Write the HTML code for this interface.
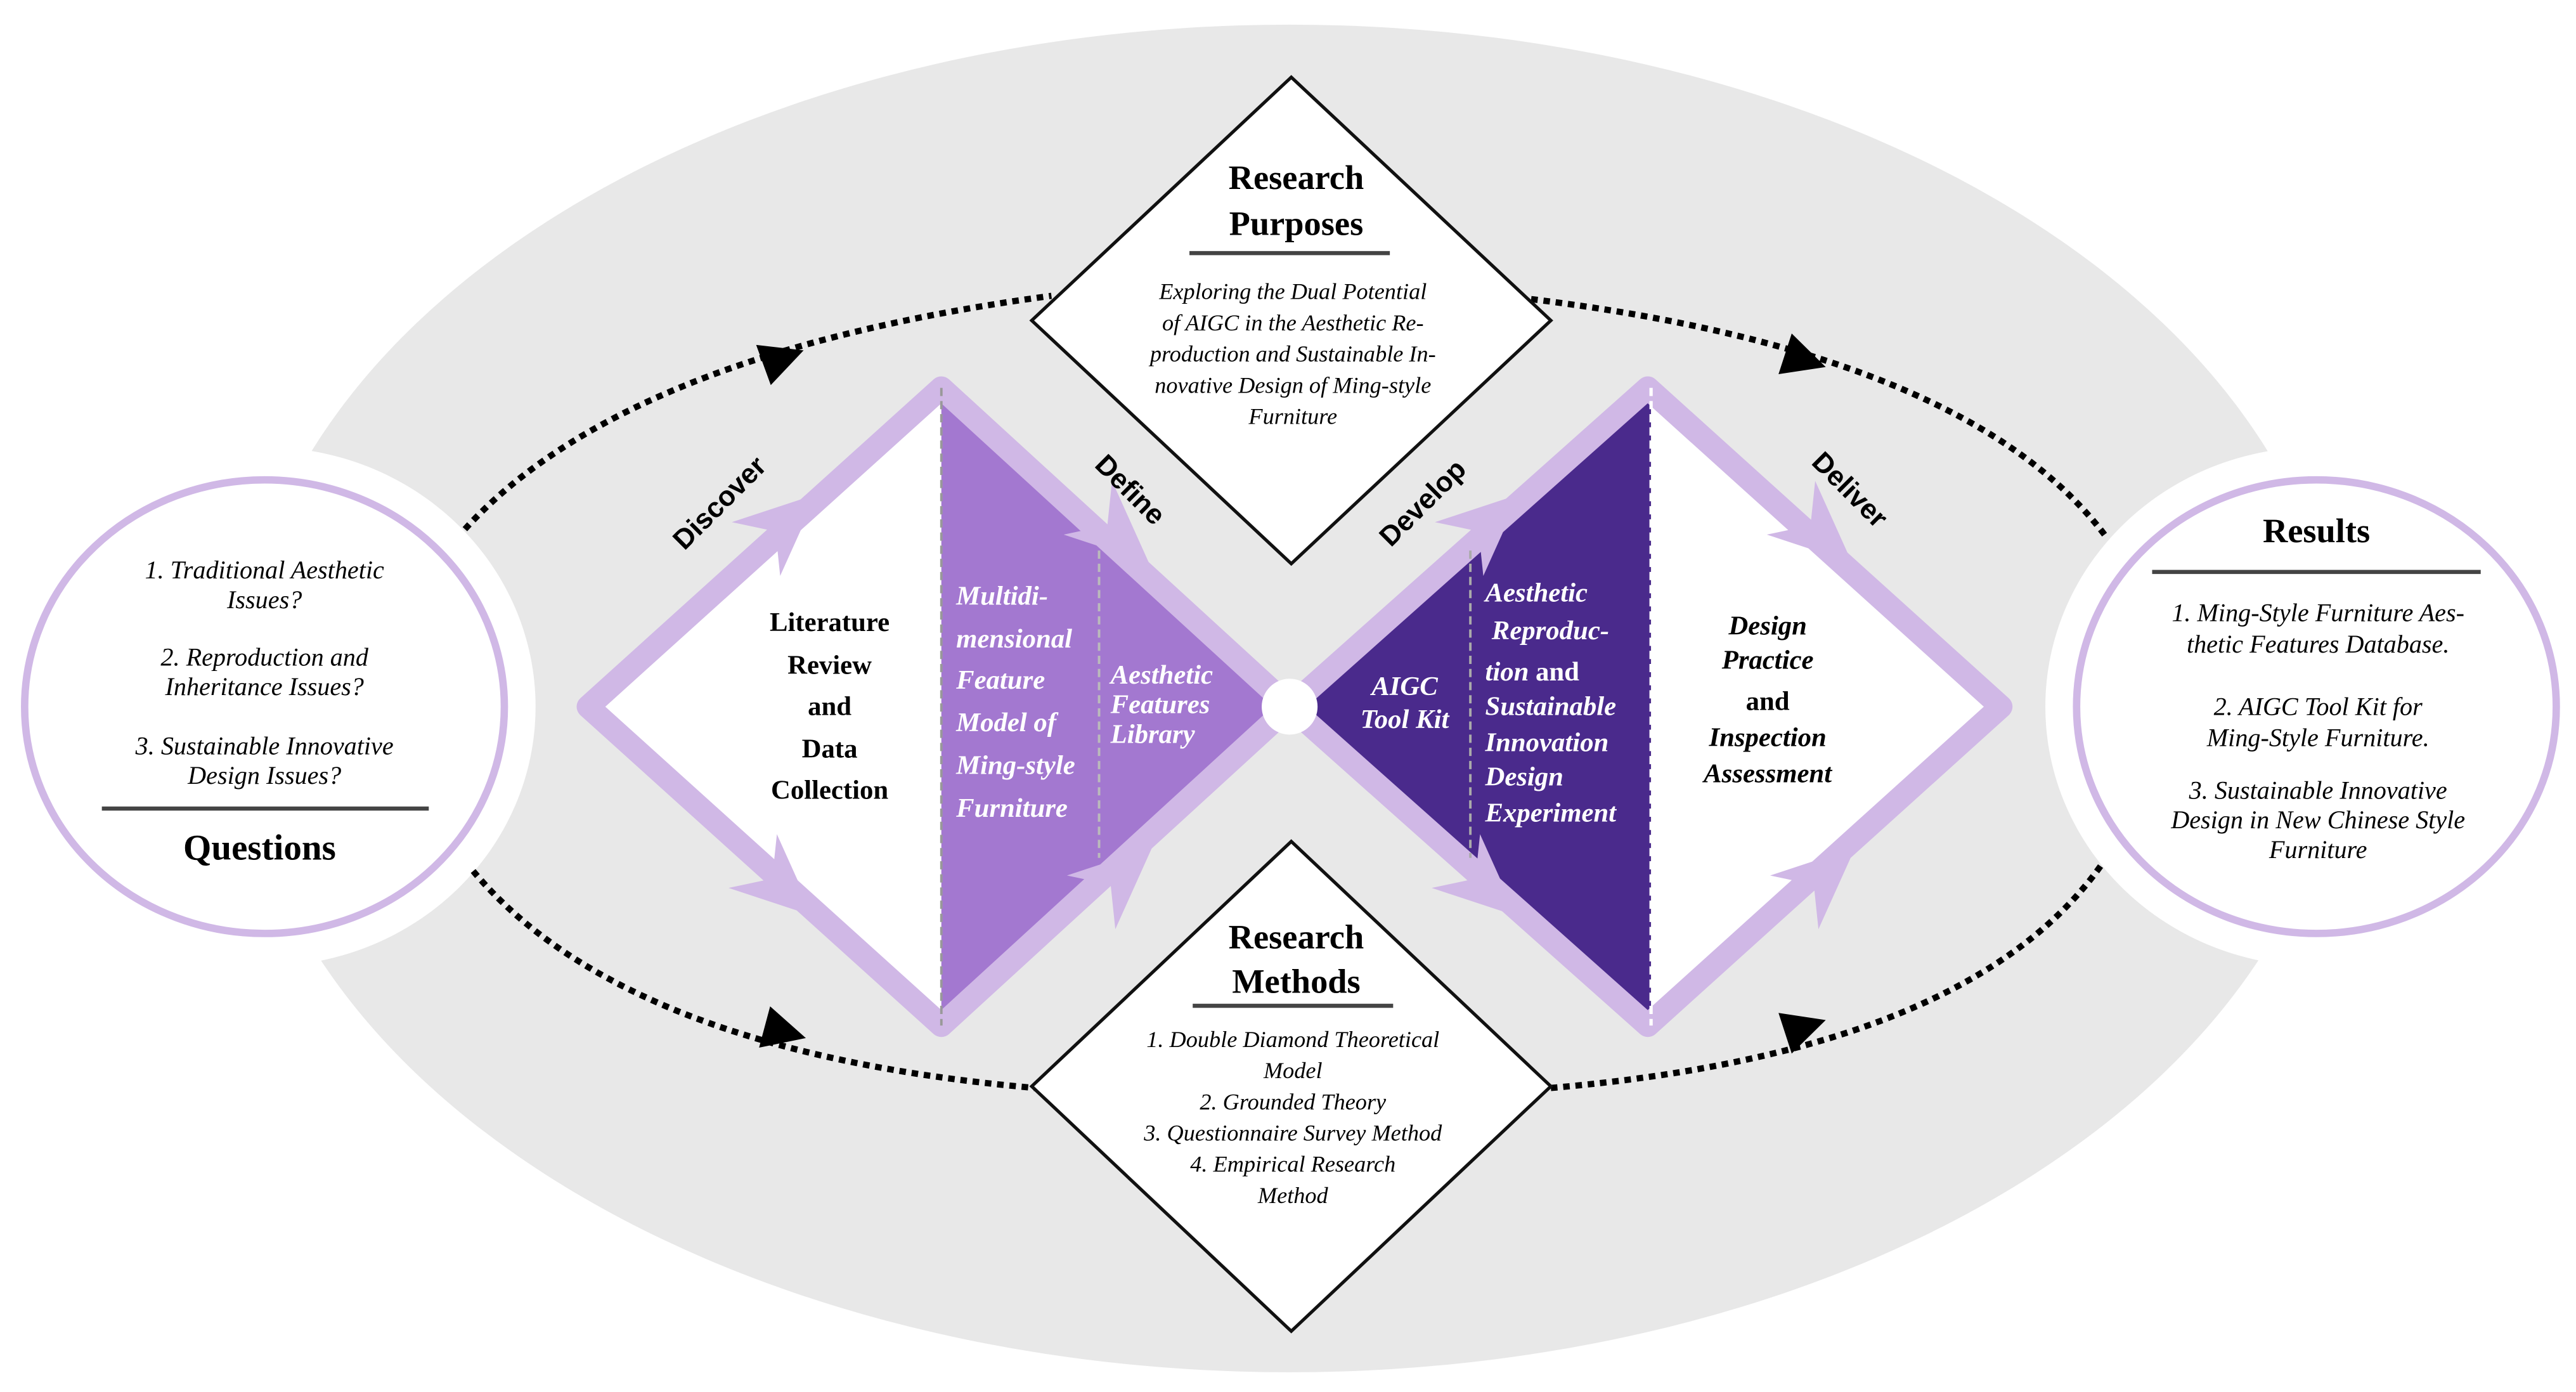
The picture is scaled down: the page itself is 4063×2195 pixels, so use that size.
<!DOCTYPE html>
<html><head><meta charset="utf-8"><style>
html,body{margin:0;padding:0;background:#fff;}
svg{display:block;}
.s{font-family:"Liberation Serif",serif;}
.a{font-family:"Liberation Sans",sans-serif;font-weight:bold;}
</style></head><body>
<svg width="4063" height="2195" viewBox="0 0 1568 847" preserveAspectRatio="none" xmlns="http://www.w3.org/2000/svg">
<rect width="1568" height="847" fill="#fff"/>
<ellipse cx="785" cy="425" rx="640" ry="410" fill="#e8e8e8"/>
<ellipse cx="161" cy="430" rx="165" ry="158" fill="#fff"/>
<ellipse cx="1410" cy="430" rx="165" ry="158" fill="#fff"/>
<ellipse cx="161" cy="430" rx="146" ry="138" fill="#fff" stroke="#d0b8e6" stroke-width="4.5"/>
<ellipse cx="1410" cy="430" rx="146" ry="138" fill="#fff" stroke="#d0b8e6" stroke-width="4.5"/>

<g fill="none" stroke="#000" stroke-width="3.8" stroke-dasharray="4 3.5">
<path d="M283,322 Q380,215 640,180"/>
<path d="M932,182 Q1200,215 1283,328"/>
<path d="M288,530 Q380,640 630,662"/>
<path d="M944,662 Q1200,640 1280,525"/>
</g>
<g fill="#000">
<polygon points="-12,-13 14,0 -12,13" transform="translate(476,218) rotate(-20)"/>
<polygon points="-12,-13 14,0 -12,13" transform="translate(1098,219) rotate(18)"/>
<polygon points="-12,-13 14,0 -12,13" transform="translate(477,628) rotate(15)"/>
<polygon points="-12,-13 14,0 -12,13" transform="translate(1098,625) rotate(-18)"/>
</g>

<polygon points="786,47 944,195 786,343 628,195" fill="#fff" stroke="#111" stroke-width="2"/>
<polygon points="786,512 944,661 786,810 628,661" fill="#fff" stroke="#111" stroke-width="2"/>

<polygon points="573,236 358,430 573,624" fill="#fff"/>
<polygon points="573,236 780,430 573,624" fill="#a378d0"/>
<polygon points="1005,236 790,430 1005,624" fill="#4a2a8c"/>
<polygon points="1005,236 1218,430 1005,624" fill="#fff"/>

<g fill="none" stroke="#d0b8e6" stroke-width="14" stroke-linejoin="round">
<path d="M785,430 L573,236 L358,430 L573,624 Z"/>
<path d="M785,430 L1003,236 L1218,430 L1003,624 Z"/>
</g>
<g fill="#d0b8e6">
<polygon points="26,0 -24,-22 -8,0 -24,22" transform="translate(478,318) rotate(-42)"/>
<polygon points="26,0 -24,-22 -8,0 -24,22" transform="translate(680,325) rotate(42)"/>
<polygon points="26,0 -24,-22 -8,0 -24,22" transform="translate(476,540) rotate(42)"/>
<polygon points="26,0 -24,-22 -8,0 -24,22" transform="translate(682,533) rotate(-42)"/>
<polygon points="26,0 -24,-22 -8,0 -24,22" transform="translate(906,318) rotate(-42)"/>
<polygon points="26,0 -24,-22 -8,0 -24,22" transform="translate(1108,325) rotate(42)"/>
<polygon points="26,0 -24,-22 -8,0 -24,22" transform="translate(904,540) rotate(42)"/>
<polygon points="26,0 -24,-22 -8,0 -24,22" transform="translate(1110,533) rotate(-42)"/>
</g>
<circle cx="785" cy="430" r="17" fill="#fff"/>

<g fill="none" stroke-width="1.5" stroke-dasharray="5 3">
<line x1="573" y1="236" x2="573" y2="624" stroke="#999"/>
<line x1="669" y1="335" x2="669" y2="522" stroke="#bbb"/>
<line x1="895" y1="335" x2="895" y2="522" stroke="#aaa"/>
<line x1="1005" y1="236" x2="1005" y2="624" stroke="#fff" stroke-width="2"/>
</g>

<g class="a" font-size="17" text-anchor="middle" fill="#000">
<text transform="translate(442,310) rotate(-45)">Discover</text>
<text transform="translate(684,302) rotate(45)">Define</text>
<text transform="translate(870,310) rotate(-45)">Develop</text>
<text transform="translate(1122,302) rotate(45)">Deliver</text>
</g>

<g class="s" text-anchor="middle">
<text x="789" y="115" font-size="21" font-weight="bold">Research</text>
<text x="789" y="143" font-size="21" font-weight="bold">Purposes</text>
<line x1="724" y1="154" x2="846" y2="154" stroke="#444" stroke-width="2.5"/>
<g font-size="14" font-style="italic">
<text x="787" y="182">Exploring the Dual Potential</text>
<text x="787" y="201">of AIGC in the Aesthetic Re-</text>
<text x="787" y="220">production and Sustainable In-</text>
<text x="787" y="239">novative Design of Ming-style</text>
<text x="787" y="258">Furniture</text>
</g>
<text x="789" y="577" font-size="21" font-weight="bold">Research</text>
<text x="789" y="604" font-size="21" font-weight="bold">Methods</text>
<line x1="726" y1="612" x2="848" y2="612" stroke="#444" stroke-width="2.5"/>
<g font-size="14" font-style="italic">
<text x="787" y="637">1. Double Diamond Theoretical</text>
<text x="787" y="656">Model</text>
<text x="787" y="675">2. Grounded Theory</text>
<text x="787" y="694">3. Questionnaire Survey Method</text>
<text x="787" y="713">4. Empirical Research</text>
<text x="787" y="732">Method</text>
</g>
<g font-size="15.5" font-style="italic">
<text x="161" y="352">1. Traditional Aesthetic</text>
<text x="161" y="370">Issues?</text>
<text x="161" y="405">2. Reproduction and</text>
<text x="161" y="423">Inheritance Issues?</text>
<text x="161" y="459">3. Sustainable Innovative</text>
<text x="161" y="477">Design Issues?</text>
</g>
<line x1="62" y1="492" x2="261" y2="492" stroke="#444" stroke-width="2.5"/>
<text x="158" y="523" font-size="22" font-weight="bold">Questions</text>
<text x="1410" y="330" font-size="21" font-weight="bold">Results</text>
<line x1="1310" y1="348" x2="1510" y2="348" stroke="#444" stroke-width="2.5"/>
<g font-size="15.5" font-style="italic">
<text x="1411" y="378">1. Ming-Style Furniture Aes-</text>
<text x="1411" y="397">thetic Features Database.</text>
<text x="1411" y="435">2. AIGC Tool Kit for</text>
<text x="1411" y="454">Ming-Style Furniture.</text>
<text x="1411" y="486">3. Sustainable Innovative</text>
<text x="1411" y="504">Design in New Chinese Style</text>
<text x="1411" y="522">Furniture</text>
</g>
<g font-size="16.5" font-weight="bold">
<text x="505" y="384">Literature</text>
<text x="505" y="410">Review</text>
<text x="505" y="435">and</text>
<text x="505" y="461">Data</text>
<text x="505" y="486">Collection</text>
</g>
<g font-size="16.5" font-weight="bold" font-style="italic">
<text x="1076" y="386">Design</text>
<text x="1076" y="407">Practice</text>
<text x="1076" y="432" font-style="normal">and</text>
<text x="1076" y="454">Inspection</text>
<text x="1076" y="476">Assessment</text>
</g>
<g font-size="16.5" font-weight="bold" font-style="italic" fill="#fff">
<text x="855" y="423">AIGC</text>
<text x="855" y="443">Tool Kit</text>
</g>
</g>
<g class="s" font-size="16.5" font-weight="bold" font-style="italic" fill="#fff">
<text x="582" y="368">Multidi-</text>
<text x="582" y="394">mensional</text>
<text x="582" y="419">Feature</text>
<text x="582" y="445">Model of</text>
<text x="582" y="471">Ming-style</text>
<text x="582" y="497">Furniture</text>
<text x="676" y="416">Aesthetic</text>
<text x="676" y="434">Features</text>
<text x="676" y="452">Library</text>
<text x="904" y="366">Aesthetic</text>
<text x="908" y="389">Reproduc-</text>
<text x="904" y="414">tion <tspan font-style="normal">and</tspan></text>
<text x="904" y="435">Sustainable</text>
<text x="904" y="457">Innovation</text>
<text x="904" y="478">Design</text>
<text x="904" y="500">Experiment</text>
</g>
</svg>
</body></html>
